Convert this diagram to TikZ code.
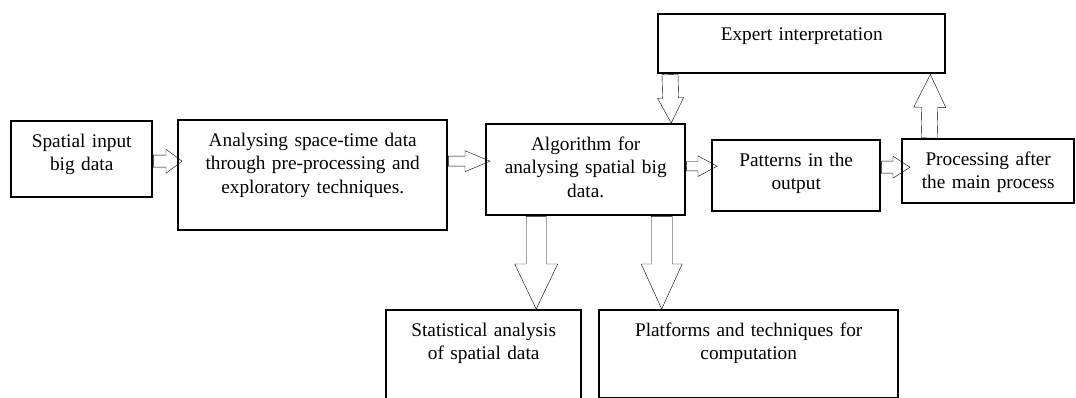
\documentclass[tikz,border=0pt]{standalone}
\usepackage{fontspec}
\setmainfont{Liberation Serif}
\usetikzlibrary{calc}

\begin{document}
\begin{tikzpicture}
      [%%%%%%%%%%%%%%%%%%%%%%%%%%%%%%
      x=1pt, y=-1pt,
      box/.style 2 args={rectangle,draw=black,line width=2.4pt,inner sep=0pt,anchor=north west,
        align=center,text width=#1,text height=26pt,text depth=#2,
        font=\fontsize{19.3}{23.5}\selectfont},
      fat/.style n args={3}{draw=black,line width=1.1pt,
        to path={let \p1=($(\tikztotarget)!#3!(\tikztostart)$) in
          ($(\tikztostart)!#1!90:(\tikztotarget)$) -- ($(\p1)!#1!90:(\tikztotarget)$)
          -- ($(\p1)!#2!90:(\tikztotarget)$) -- (\tikztotarget)
          -- ($(\p1)!#2!-90:(\tikztotarget)$) -- ($(\p1)!#1!-90:(\tikztotarget)$)
          -- ($(\tikztostart)!#1!-90:(\tikztotarget)$) -- cycle}},
      ]%%%%%%%%%%%%%%%%%%%%%%%%%%%%%%
      \useasboundingbox (0,0) rectangle (1076,398);

      % boxes
      \node[box={141pt}{50pt}] (input) at (10,120) {Spatial input\\big data};
      \node[box={269pt}{84pt}] (explore) at (177,119) {Analysing space-time data\\through pre-processing and\\exploratory techniques.};
      \node[box={199pt}{65pt}] (algo) at (485,123) {Algorithm for\\analysing spatial big\\data.};
      \node[box={168pt}{45pt}] (patterns) at (711,139) {Patterns in the\\output};
      \node[box={172pt}{38pt}] (process) at (901,138) {Processing after\\the main process};
      \node[box={287pt}{33pt}] (expert) at (657,13) {Expert interpretation};
      \node[box={195pt}{65pt}] (stats) at (385,309) {Statistical analysis\\of spatial data};
      \node[box={299pt}{62pt}] (platforms) at (598,309) {Platforms and techniques for\\computation};

      % block arrows
      \draw ([yshift=-2pt]input.east) to[fat={6pt}{12pt}{16pt}] ([xshift=5pt,yshift=14pt]explore.west);
      \draw ([yshift=14pt]explore.east) to[fat={5pt}{10.5pt}{25pt}] ([xshift=5pt,yshift=8.5pt]algo.west);
      \draw ([xshift=13pt]expert.south west) to[fat={8pt}{13pt}{25pt}] ([xshift=85.5pt]algo.north);
      \draw ([yshift=3.5pt]algo.east) to[fat={4.7pt}{10.3pt}{19pt}] ([xshift=6pt,yshift=9.5pt]patterns.west);
      \draw ([yshift=8.5pt]patterns.east) to[fat={6pt}{11pt}{17pt}] ([xshift=9pt,yshift=4pt]process.west);
      \draw ([xshift=-59pt]process.north) to[fat={8pt}{16pt}{33pt}] ([xshift=-16pt]expert.south east);
      \draw ([xshift=-49.5pt]algo.south) to[fat={10pt}{21.5pt}{45pt}] ([xshift=52.5pt]stats.north);
      \draw ([xshift=76pt]algo.south) to[fat={10.5pt}{20.5pt}{45pt}] ([xshift=-87pt]platforms.north);
    \end{tikzpicture}
\end{document}
